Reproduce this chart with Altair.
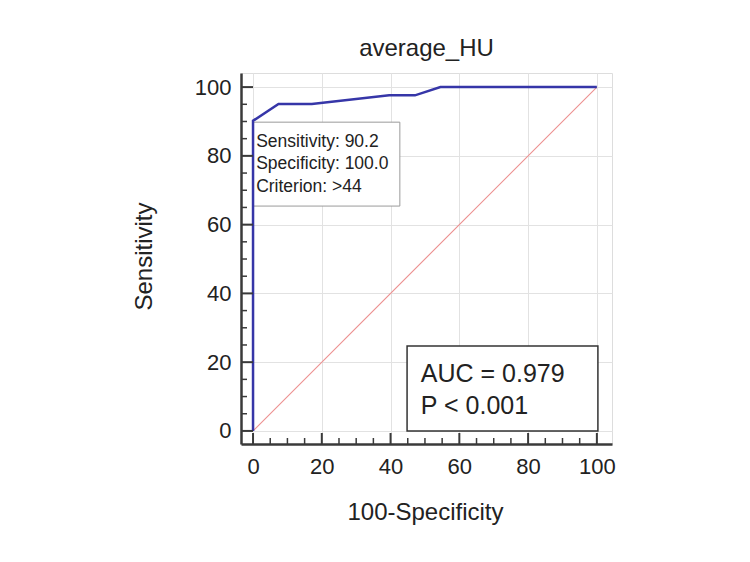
import altair as alt
import pandas as pd

# ---- data ----
fpr = [0, 0, 7.4, 17.1, 39.6, 47.1, 54.5, 100]
tpr = [0, 90.2, 95.1, 95.1, 97.6, 97.6, 100, 100]
diag_x = [0, 100]
diag_y = [0, 100]
major_ticks = [0, 20, 40, 60, 80, 100]
minor_ticks = [5, 10, 15, 25, 30, 35, 45, 50, 55, 65, 70, 75, 85, 90, 95]
chart_title = "average_HU"
x_title = "100-Specificity"
y_title = "Sensitivity"
cut_lines = ["Sensitivity: 90.2", "Specificity: 100.0", "Criterion: >44"]
auc_lines = ["AUC = 0.979", "P < 0.001"]

# annotation boxes (data coordinates)
cut_box = {"x": 0.0, "x2": 42.7, "y": 65.4, "y2": 89.8}
cut_text_pos = {"x": 0.9, "y": 82.6}
auc_box = {"x": 44.8, "x2": 100.3, "y": 0.0, "y2": 24.7}
auc_text_pos = {"x": 48.8, "y": 14.3}

FONT = "Liberation Sans"
W, H = 371, 371

curve_df = pd.DataFrame({"fpr": fpr, "tpr": tpr, "order": list(range(len(fpr)))})
diag_df = pd.DataFrame({"fpr": diag_x, "tpr": diag_y})
major_df = pd.DataFrame({"v": major_ticks})
minor_df = pd.DataFrame({"v": minor_ticks})
cut_box_df = pd.DataFrame([cut_box])
auc_box_df = pd.DataFrame([auc_box])
cut_text_df = pd.DataFrame([{**cut_text_pos, "t": "\n".join(cut_lines)}])
auc_text_df = pd.DataFrame([{**auc_text_pos, "t": "\n".join(auc_lines)}])

xscale = alt.Scale(domain=[-3.5, 104.4], nice=False, zero=False)
yscale = alt.Scale(domain=[-3.8, 104.1], nice=False, zero=False)

xaxis = alt.Axis(
    values=major_ticks, format="d", grid=True, gridColor="#e2e2e2", gridWidth=1,
    ticks=False, domainColor="#3a3a3a", domainWidth=2.5,
    labelFontSize=22, labelFont=FONT, labelColor="#222222", labelPadding=12,
    labelFlush=False, title=x_title, titleFont=FONT, titleFontSize=24,
    titleFontWeight="normal", titleColor="#222222", titleX=184, titleY=75,
    titleBaseline="alphabetic", titleAlign="center",
)
yaxis = alt.Axis(
    values=major_ticks, format="d", grid=True, gridColor="#e2e2e2", gridWidth=1,
    ticks=False, domainColor="#3a3a3a", domainWidth=2.5,
    labelFontSize=22, labelFont=FONT, labelColor="#222222", labelPadding=10,
    labelFlush=False, title=y_title, titleFont=FONT, titleFontSize=24,
    titleFontWeight="normal", titleColor="#222222", titleX=-90, titleY=183,
    titleBaseline="alphabetic", titleAlign="center",
)


def X(field):
    return alt.X(field, type="quantitative", scale=xscale, axis=xaxis)


def Y(field):
    return alt.Y(field, type="quantitative", scale=yscale, axis=yaxis)


diag = alt.Chart(diag_df).mark_line(color="#ec8f8f", strokeWidth=1.1).encode(
    x=X("fpr"), y=Y("tpr")
)

box1 = alt.Chart(cut_box_df).mark_rect(
    fill="white", stroke="#9a9a9a", strokeWidth=1
).encode(x=X("x"), x2="x2", y=Y("y"), y2="y2")

box2 = alt.Chart(auc_box_df).mark_rect(
    fill="white", stroke="#333333", strokeWidth=1.5
).encode(x=X("x"), x2="x2", y=Y("y"), y2="y2")

curve = alt.Chart(curve_df).mark_line(
    color="#3636a8", strokeWidth=2.5, strokeJoin="miter"
).encode(x=X("fpr"), y=Y("tpr"), order="order:Q")

text1 = alt.Chart(cut_text_df).mark_text(
    align="left", baseline="alphabetic", font=FONT, fontSize=17.5,
    lineBreak="\n", lineHeight=22.5, color="#222222"
).encode(x=X("x"), y=Y("y"), text="t:N")

text2 = alt.Chart(auc_text_df).mark_text(
    align="left", baseline="alphabetic", font=FONT, fontSize=25,
    lineBreak="\n", lineHeight=32.3, color="#222222"
).encode(x=X("x"), y=Y("y"), text="t:N")

tick_color = "#3a3a3a"
xmaj = alt.Chart(major_df).mark_rule(color=tick_color, strokeWidth=2).encode(
    x=X("v"), y=alt.value(H), y2=alt.value(H - 11)
)
xmin = alt.Chart(minor_df).mark_rule(color=tick_color, strokeWidth=1.5).encode(
    x=X("v"), y=alt.value(H), y2=alt.value(H - 6)
)
ymaj = alt.Chart(major_df).mark_rule(color=tick_color, strokeWidth=2).encode(
    y=Y("v"), x=alt.value(0), x2=alt.value(12)
)
ymin = alt.Chart(minor_df).mark_rule(color=tick_color, strokeWidth=1.5).encode(
    y=Y("v"), x=alt.value(0), x2=alt.value(6)
)

chart = alt.layer(
    diag, box1, box2, curve, text1, text2, xmaj, xmin, ymaj, ymin
).properties(
    width=W, height=H,
    title=alt.TitleParams(
        chart_title, font=FONT, fontSize=24, fontWeight="normal",
        color="#222222", anchor="middle", baseline="alphabetic", offset=16,
        dy=23,
    ),
    autosize=alt.AutoSizeParams(type="none"),
    padding={"left": 241, "top": 73, "right": 138, "bottom": 118},
).configure_view(stroke=None).configure(background="white")

chart.save("out.html", embed_options={"renderer": "svg", "actions": False})
